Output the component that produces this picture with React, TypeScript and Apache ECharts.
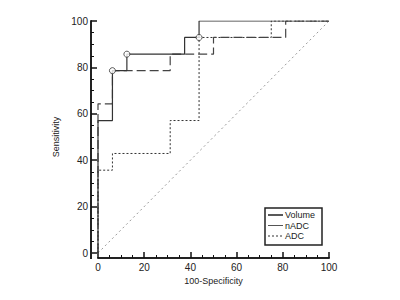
import React, { useEffect, useRef } from "react";
import * as echarts from "echarts";

const volumeData: number[][] = [
  [0, 0], [0, 57.1], [6.25, 57.1], [6.25, 78.6], [12.5, 78.6], [12.5, 85.7],
  [37.5, 85.7], [37.5, 92.9], [43.75, 92.9], [43.75, 100], [100, 100],
];
const nadcData: number[][] = [
  [0, 0], [0, 64.3], [6.25, 64.3], [6.25, 78.6], [31.25, 78.6], [31.25, 85.7],
  [50, 85.7], [50, 92.9], [81.25, 92.9], [81.25, 100], [100, 100],
];
const adcData: number[][] = [
  [0, 0], [0, 35.7], [6.25, 35.7], [6.25, 42.9], [31.25, 42.9], [31.25, 57.1],
  [43.75, 57.1], [43.75, 92.9], [75, 92.9], [75, 100], [100, 100],
];
const diagonalData: number[][] = [[0, 0], [100, 100]];
const cutoffPoints: number[][] = [[6.25, 78.6], [12.5, 85.7], [43.75, 92.9]];
const seriesNames = ["Volume", "nADC", "ADC"];
const xTitle = "100-Specificity";
const yTitle = "Sensitivity";

export default function App() {
  const ref = useRef<HTMLDivElement>(null);
  useEffect(() => {
    if (!ref.current) return;
    const chart = echarts.init(ref.current, null, { renderer: "svg" });
    const font = "Liberation Sans, Arial, sans-serif";
    const makeAxis = (offset: number, margin: number, name: string, nameGap: number) => ({
      type: "value",
      min: 0,
      max: 100,
      interval: 20,
      offset,
      minorTick: { show: true, splitNumber: 4, length: 3, lineStyle: { color: "#111", width: 1 } },
      axisTick: { show: true, inside: true, length: 6, lineStyle: { color: "#111", width: 1.5 } },
      axisLine: { show: true, onZero: false, lineStyle: { color: "#222", width: 2 } },
      splitLine: { show: false },
      minorSplitLine: { show: false },
      axisLabel: { color: "#222", fontSize: 10, fontFamily: font, margin },
      name,
      nameLocation: "middle",
      nameGap,
      nameTextStyle: { color: "#222", fontSize: 9, fontFamily: font },
    });
    const legendStyles = [
      { width: 1.5, color: "#222", lineDash: null as any },
      { width: 1, color: "#555", lineDash: null as any },
      { width: 1, color: "#333", lineDash: [2, 2] },
    ];
    const graphics: any[] = [
      {
        type: "rect",
        shape: { x: 265, y: 208, width: 57, height: 37 },
        style: { fill: "#fff", stroke: "#222", lineWidth: 1.5 },
        z: 100,
      },
    ];
    seriesNames.forEach((name, i) => {
      const y = 215 + i * 10.5;
      graphics.push({
        type: "line",
        shape: { x1: 268, y1: y, x2: 283, y2: y },
        style: { stroke: legendStyles[i].color, lineWidth: legendStyles[i].width, lineDash: legendStyles[i].lineDash },
        z: 101,
      });
      graphics.push({
        type: "text",
        x: 285,
        y,
        style: { text: name, fill: "#222", fontSize: 9, fontFamily: font, verticalAlign: "middle" },
        z: 101,
      });
    });
    graphics.push({
      type: "line",
      shape: { x1: 91, y1: 252, x2: 91, y2: 259 },
      style: { stroke: "#222", lineWidth: 2 },
      z: 50,
    });
    chart.setOption({
      animation: false,
      grid: { left: 98, right: 71, top: 21, bottom: 47 },
      xAxis: makeAxis(5, 4, xTitle, 18),
      yAxis: makeAxis(7, 3, yTitle, 19),
      graphic: graphics,
      series: [
        {
          type: "line",
          data: diagonalData,
          symbol: "none",
          silent: true,
          lineStyle: { color: "#999", width: 1, type: [2, 3] },
        },
        {
          name: seriesNames[2],
          type: "line",
          data: adcData,
          symbol: "none",
          lineStyle: { color: "#333", width: 1, type: [2, 2] },
        },
        {
          name: seriesNames[1],
          type: "line",
          data: nadcData,
          symbol: "none",
          lineStyle: { color: "#444", width: 1.2, type: [9, 4] },
        },
        {
          name: seriesNames[0],
          type: "line",
          data: volumeData,
          symbol: "none",
          lineStyle: { color: "#333", width: 1.2, type: "solid" },
        },
        {
          type: "scatter",
          data: cutoffPoints,
          symbol: "circle",
          symbolSize: 6,
          itemStyle: { color: "#fff", borderColor: "#333", borderWidth: 1 },
          z: 5,
        },
      ],
    });
    return () => chart.dispose();
  }, []);
  return <div ref={ref} style={{ width: 400, height: 300, marginLeft: -8, marginTop: -8 }} />;
}
